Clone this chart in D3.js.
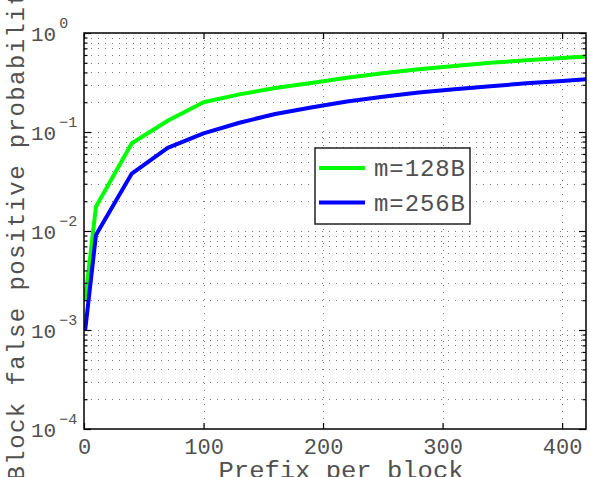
<!DOCTYPE html>
<html>
<head>
<meta charset="utf-8">
<script src="https://cdn.jsdelivr.net/npm/d3@7"></script>
<style>
  body { margin: 0; background: #fff; }
  svg { display: block; }
  text { font-family: "Liberation Mono", "DejaVu Sans Mono", monospace; fill: #505050; }
</style>
</head>
<body>
<div id="chart"></div>
<script>
// values (x step of 30, last point runs past the axis)
var prefixPerBlock = [1, 10, 40, 70, 100, 130, 160, 190, 220, 250, 280, 310, 340, 370, 400, 430];
var fp128 = [0.002, 0.0176, 0.077, 0.13, 0.2, 0.24, 0.278, 0.313, 0.353, 0.393, 0.43, 0.465, 0.5, 0.53, 0.56, 0.59];
var fp256 = [0.001, 0.0091, 0.038, 0.069, 0.097, 0.124, 0.152, 0.177, 0.203, 0.227, 0.25, 0.271, 0.29, 0.31, 0.328, 0.347];
var seriesNames = ["m=128B", "m=256B"];
var seriesColors = ["#00ff00", "#0000ff"];
var xTicks = [0, 100, 200, 300, 400];
var yExponents = [-4, -3, -2, -1, 0];

var width = 590, height = 477;
var plot = {left: 84, right: 586, top: 33, bottom: 429};

var svg = d3.select("#chart").append("svg")
    .attr("width", width)
    .attr("height", height);

var x = d3.scaleLinear().domain([0, 420]).range([plot.left, plot.right]);
var y = d3.scaleLog().domain([1e-4, 1]).range([plot.bottom, plot.top]);

// major and minor y values for the log grid
var yMajor = yExponents.map(function(e) { return Math.pow(10, e); });
var yMinor = [];
yExponents.slice(0, -1).forEach(function(e) {
    for (var k = 2; k <= 9; k++) yMinor.push(k * Math.pow(10, e));
});

svg.append("clipPath").attr("id", "clip")
  .append("rect")
    .attr("x", plot.left).attr("y", plot.top)
    .attr("width", plot.right - plot.left)
    .attr("height", plot.bottom - plot.top);

// grid (dotted, like matlab)
var grid = svg.append("g").attr("class", "grid")
    .attr("stroke", "#777").attr("stroke-width", 1)
    .attr("stroke-dasharray", "1,6");

grid.selectAll("line.h")
    .data(yMajor.concat(yMinor).filter(function(d) { return d > 1e-4 && d < 1; }))
    .enter().append("line")
    .attr("class", "h")
    .attr("x1", plot.left).attr("x2", plot.right)
    .attr("y1", function(d) { return Math.round(y(d)) + 0.5; })
    .attr("y2", function(d) { return Math.round(y(d)) + 0.5; });

grid.selectAll("line.v")
    .data(xTicks.filter(function(d) { return d > 0; }))
    .enter().append("line")
    .attr("class", "v")
    .attr("y1", plot.top).attr("y2", plot.bottom)
    .attr("x1", function(d) { return Math.round(x(d)) + 0.5; })
    .attr("x2", function(d) { return Math.round(x(d)) + 0.5; });

// series
var line = d3.line()
    .x(function(d) { return x(d[0]); })
    .y(function(d) { return y(d[1]); });

[fp128, fp256].forEach(function(vals, i) {
    svg.append("path")
        .datum(prefixPerBlock.map(function(p, j) { return [p, vals[j]]; }))
        .attr("clip-path", "url(#clip)")
        .attr("fill", "none")
        .attr("stroke", seriesColors[i])
        .attr("stroke-width", 4)
        .attr("stroke-linejoin", "round")
        .attr("d", line);
});

// axes, ticks inside
function styleAxis(g) {
    g.select(".domain").remove();
    g.selectAll(".tick line").attr("stroke", "#000").attr("stroke-width", 1.2);
}

svg.append("g")
    .attr("transform", "translate(0," + plot.bottom + ")")
    .call(d3.axisBottom(x).tickValues(xTicks).tickSize(-6).tickPadding(9)
        .tickFormat(d3.format("d")))
    .call(styleAxis)
    .selectAll("text")
    .attr("font-size", 22)
    .attr("font-family", "Liberation Mono")
    .attr("fill", "#505050");

svg.append("g")
    .attr("transform", "translate(0," + plot.top + ")")
    .call(d3.axisTop(x).tickValues(xTicks).tickSize(-6).tickFormat(""))
    .call(styleAxis);

[["axisLeft", plot.left], ["axisRight", plot.right]].forEach(function(a) {
    svg.append("g")
        .attr("transform", "translate(" + a[1] + ",0)")
        .call(d3[a[0]](y).tickValues(yMajor).tickSize(-7).tickFormat(""))
        .call(styleAxis);
    svg.append("g")
        .attr("transform", "translate(" + a[1] + ",0)")
        .call(d3[a[0]](y).tickValues(yMinor).tickSize(-3.5).tickFormat(""))
        .call(styleAxis);
});

// y tick labels: 10 with exponent
var ylab = svg.append("g").selectAll("text")
    .data(yExponents)
    .enter().append("text")
    .attr("x", 31)
    .attr("y", function(e) { return y(Math.pow(10, e)) + 8; })
    .attr("font-size", 21);
ylab.append("tspan").text("10");
ylab.append("tspan")
    .attr("dx", 3)
    .attr("dy", -13)
    .attr("font-size", 15)
    .text(function(e) { return e < 0 ? "\u2212" + (-e) : e; });

// box
svg.append("rect")
    .attr("x", plot.left).attr("y", plot.top)
    .attr("width", plot.right - plot.left)
    .attr("height", plot.bottom - plot.top)
    .attr("fill", "none")
    .attr("stroke", "#000")
    .attr("stroke-width", 1.5);

// axis labels
svg.append("text")
    .attr("x", (plot.left + plot.right) / 2 + 6)
    .attr("y", 478)
    .attr("text-anchor", "middle")
    .attr("font-size", 24)
    .attr("textLength", 245)
    .attr("lengthAdjust", "spacingAndGlyphs")
    .text("Prefix per block");

svg.append("text")
    .attr("transform", "translate(24,228) rotate(-90)")
    .attr("text-anchor", "middle")
    .attr("font-size", 24)
    .attr("textLength", 505)
    .attr("lengthAdjust", "spacing")
    .text("Block false positive probability");

// legend
var legend = svg.append("g").attr("transform", "translate(315,148)");
legend.append("rect")
    .attr("width", 155).attr("height", 76)
    .attr("fill", "#fff")
    .attr("stroke", "#222")
    .attr("stroke-width", 1.5);
seriesNames.forEach(function(name, i) {
    var ly = 20 + i * 34.5;
    legend.append("line")
        .attr("x1", 4).attr("x2", 50)
        .attr("y1", ly).attr("y2", ly)
        .attr("stroke", seriesColors[i])
        .attr("stroke-width", 4);
    legend.append("text")
        .attr("x", 59).attr("y", ly + 8)
        .attr("font-size", 24)
        .attr("textLength", 91)
        .attr("lengthAdjust", "spacing")
        .text(name);
});
</script>
</body>
</html>
